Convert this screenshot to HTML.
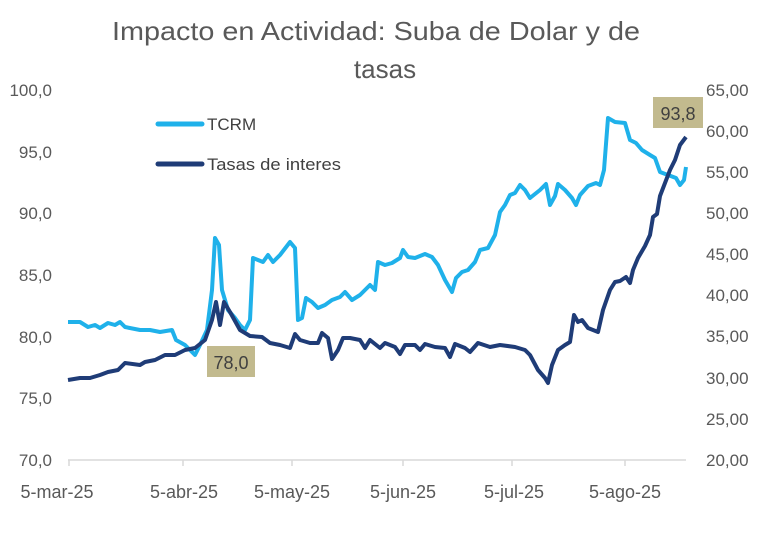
<!DOCTYPE html>
<html><head><meta charset="utf-8"><style>
body{margin:0;background:#fff}
svg text{font-family:"Liberation Sans",sans-serif}
</style></head><body>
<svg width="770" height="534" viewBox="0 0 770 534" xmlns="http://www.w3.org/2000/svg">
<rect width="770" height="534" fill="#fff"/>
<text x="112" y="40" font-size="26" fill="#595959" textLength="528" lengthAdjust="spacingAndGlyphs">Impacto en Actividad: Suba de Dolar y de</text>
<text x="385" y="78" text-anchor="middle" font-size="26" fill="#595959">tasas</text>
<g font-size="17" fill="#595959" text-anchor="end">
<text x="52" y="96">100,0</text><text x="52" y="158">95,0</text><text x="52" y="219">90,0</text>
<text x="52" y="281">85,0</text><text x="52" y="343">80,0</text><text x="52" y="404">75,0</text><text x="52" y="466">70,0</text>
</g>
<g font-size="17" fill="#595959" text-anchor="start">
<text x="706" y="96">65,00</text><text x="706" y="137">60,00</text><text x="706" y="178">55,00</text>
<text x="706" y="219">50,00</text><text x="706" y="260">45,00</text><text x="706" y="301">40,00</text>
<text x="706" y="342">35,00</text><text x="706" y="384">30,00</text><text x="706" y="425">25,00</text><text x="706" y="466">20,00</text>
</g>
<line x1="68" y1="460" x2="686" y2="460" stroke="#d9d9d9" stroke-width="1.5"/>
<g stroke="#d9d9d9" stroke-width="1.5">
<line x1="69" y1="460" x2="69" y2="466"/><line x1="183" y1="460" x2="183" y2="466"/><line x1="292" y1="460" x2="292" y2="466"/>
<line x1="403" y1="460" x2="403" y2="466"/><line x1="512" y1="460" x2="512" y2="466"/><line x1="625" y1="460" x2="625" y2="466"/>
</g>
<g font-size="18" fill="#595959" text-anchor="middle">
<text x="57" y="498">5-mar-25</text><text x="184" y="498">5-abr-25</text><text x="292" y="498">5-may-25</text>
<text x="403" y="498">5-jun-25</text><text x="514" y="498">5-jul-25</text><text x="625" y="498">5-ago-25</text>
</g>
<polyline fill="none" stroke="#1fb1ea" stroke-width="4" stroke-linejoin="round" points="68,322 80,322 88,327 95,325 100,328 108,323 115,325 120,322 125,327 140,330 150,330 160,332 172,330 176,340 185,345 195,355 200,345 207,330 212,290 215,238 219,245 222,290 228,310 235,318 240,325 245,330 250,320 253,258 258,260 263,262 268,255 273,262 280,255 290,242 295,248 298,320 302,318 306,298 312,302 318,308 325,305 332,300 340,297 345,292 352,300 360,295 370,285 375,290 378,262 385,265 392,263 400,258 403,250 408,257 415,258 425,254 432,257 438,265 445,280 452,292 456,278 462,272 468,270 475,262 480,250 488,248 495,235 500,212 505,205 510,195 515,193 520,185 525,190 530,198 540,190 546,184 550,205 555,196 558,184 565,190 572,198 576,205 580,195 588,186 596,183 600,185 604,170 608,118 615,122 625,123 630,140 636,143 642,150 650,155 655,158 660,172 668,175 676,178 680,185 684,180 686,167"/>
<polyline fill="none" stroke="#1f3c77" stroke-width="4" stroke-linejoin="round" points="68,380 80,378 90,378 100,375 108,372 118,370 125,363 140,365 145,362 155,360 165,355 175,355 185,350 195,348 205,340 212,320 216,302 220,325 224,302 230,312 240,330 250,336 262,337 270,343 280,345 290,348 295,334 300,340 310,343 318,343 322,333 328,338 332,359 338,350 343,338 350,338 360,340 365,348 370,340 380,348 385,343 395,347 400,354 405,345 415,345 420,350 425,344 435,347 445,348 450,357 455,344 465,348 470,352 478,343 490,347 500,345 515,347 525,350 530,355 538,370 545,378 548,383 552,365 558,350 565,345 570,342 574,315 578,322 582,320 588,328 598,332 603,310 610,290 615,282 620,281 626,277 630,283 633,270 638,258 645,246 650,235 653,217 657,214 660,196 665,183 670,170 675,160 680,145 686,137"/>
<line x1="158" y1="124" x2="202" y2="124" stroke="#1fb1ea" stroke-width="5" stroke-linecap="round"/>
<text x="207" y="130" font-size="17" fill="#404040">TCRM</text>
<line x1="158" y1="164" x2="202" y2="164" stroke="#1f3c77" stroke-width="5" stroke-linecap="round"/>
<text x="207" y="170" font-size="17" fill="#404040" textLength="134" lengthAdjust="spacingAndGlyphs">Tasas de interes</text>
<rect x="207" y="346" width="48" height="31" fill="#c2ba8e"/>
<text x="231" y="369" text-anchor="middle" font-size="18" fill="#404040">78,0</text>
<rect x="653" y="97" width="50" height="31" fill="#c2ba8e"/>
<text x="678" y="120" text-anchor="middle" font-size="18" fill="#404040">93,8</text>
</svg>
</body></html>
